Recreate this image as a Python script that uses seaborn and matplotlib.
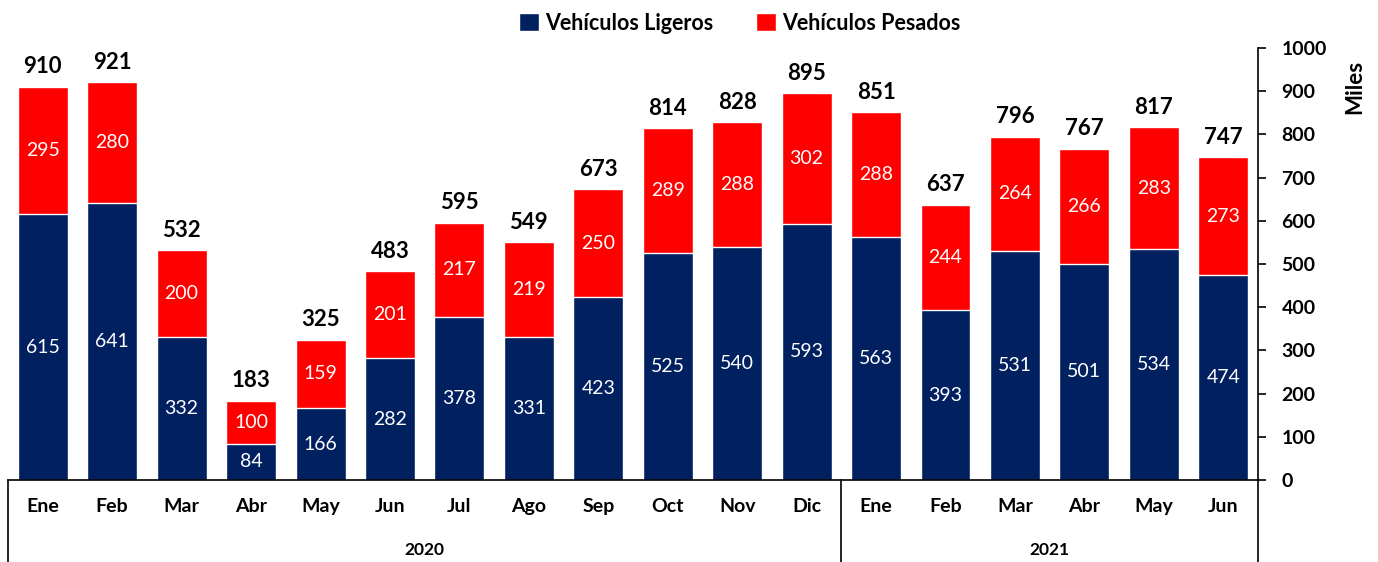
import pandas as pd
import matplotlib.pyplot as plt
import seaborn as sns
from matplotlib.patches import Patch

# data (miles of vehicles)
meses = ["Ene", "Feb", "Mar", "Abr", "May", "Jun", "Jul", "Ago", "Sep", "Oct", "Nov", "Dic",
         "Ene", "Feb", "Mar", "Abr", "May", "Jun"]
anios = ["2020"] * 12 + ["2021"] * 6
ligeros = [615, 641, 332, 84, 166, 282, 378, 331, 423, 525, 540, 593, 563, 393, 531, 501, 534, 474]
pesados = [295, 280, 200, 100, 159, 201, 217, 219, 250, 289, 288, 302, 288, 244, 264, 266, 283, 273]
totales = [910, 921, 532, 183, 325, 483, 595, 549, 673, 814, 828, 895, 851, 637, 796, 767, 817, 747]

azul = "#002060"
rojo = "#FF0000"

df = pd.DataFrame({"mes": meses, "anio": anios, "ligeros": ligeros, "pesados": pesados})
df["clave"] = df["mes"] + " " + df["anio"]
df["total"] = df["ligeros"] + df["pesados"]

sns.set_style("white")
plt.rcParams["font.family"] = ["Lato", "DejaVu Sans"]
plt.rcParams["text.color"] = "black"
plt.rcParams["xtick.color"] = "black"
plt.rcParams["ytick.color"] = "black"
plt.rcParams["axes.labelcolor"] = "black"

fig = plt.figure(figsize=(13.78, 5.62), dpi=100)
ax = fig.add_axes([8 / 1378, 1 - 480 / 562, 1250 / 1378, 432 / 562])

# red bar is the full stack, blue drawn over it
sns.barplot(data=df, x="clave", y="total", color=rojo, width=0.72, saturation=1, ax=ax)
sns.barplot(data=df, x="clave", y="ligeros", color=azul, width=0.72, saturation=1, ax=ax)

for i in range(len(df)):
    ax.text(i, ligeros[i] / 2, str(ligeros[i]), ha="center", va="center",
            color="white", fontsize=14)
    ax.text(i, ligeros[i] + pesados[i] / 2, str(pesados[i]), ha="center", va="center",
            color="white", fontsize=14)
    ax.text(i, df["total"][i] + 22, str(totales[i]), ha="center", va="bottom",
            color="black", fontsize=16, fontweight="bold")

ax.set_xlim(-0.5, len(df) - 0.5)
ax.set_ylim(0, 1000)
ax.set_yticks(range(0, 1001, 100))
ax.yaxis.tick_right()
ax.tick_params(axis="y", direction="out", length=6, width=1.2, color="black",
               labelsize=14, pad=11)
for lbl in ax.get_yticklabels():
    lbl.set_fontweight("bold")

ax.set_xticks(range(len(df)))
ax.set_xticklabels(meses, fontsize=14, fontweight="bold")
ax.tick_params(axis="x", length=0, pad=13)
ax.set_xlabel("")
ax.set_ylabel("")

for s in ["top", "left"]:
    ax.spines[s].set_visible(False)
ax.spines["right"].set_color("black")
ax.spines["right"].set_linewidth(1.2)
ax.spines["bottom"].set_color("black")
ax.spines["bottom"].set_linewidth(1.2)

# year group boxes under the month labels
trans = ax.get_xaxis_transform()
for xb in [-0.5, 11.5, 17.5]:
    ax.plot([xb, xb], [0, -0.2], transform=trans, color="black", lw=1.2, clip_on=False)
ax.text(5.5, -0.162, "2020", transform=trans, ha="center", va="center",
        fontsize=12.5, fontweight="bold")
ax.text(14.5, -0.162, "2021", transform=trans, ha="center", va="center",
        fontsize=12.5, fontweight="bold")

fig.text(1355 / 1378, 1 - 87 / 562, "Miles", rotation=90, ha="center", va="center",
         fontsize=16, fontweight="bold")

handles = [Patch(facecolor=azul, label="Vehículos Ligeros"),
           Patch(facecolor=rojo, label="Vehículos Pesados")]
fig.legend(handles=handles, loc="upper center", bbox_to_anchor=(0.537, 1.012), ncol=2,
           frameon=False, prop={"weight": "bold", "size": 15.5},
           handlelength=0.9, handleheight=0.9, handletextpad=0.3, columnspacing=2.0)

fig.savefig("out.png", dpi=100)
